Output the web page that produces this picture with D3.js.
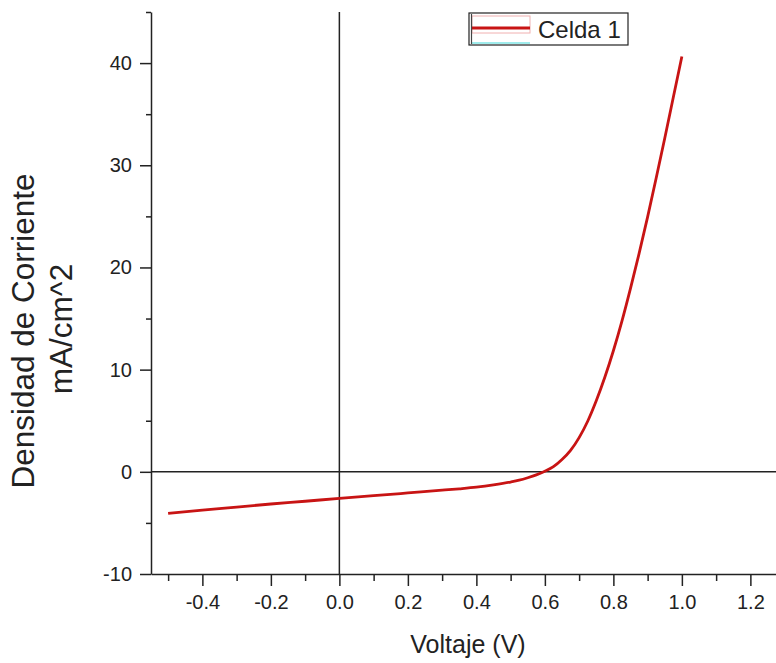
<!DOCTYPE html>
<html>
<head>
<meta charset="utf-8">
<script src="https://cdn.jsdelivr.net/npm/d3@7"></script>
<style>
  body { margin: 0; background: #fff; }
  svg { display: block; font-family: "Liberation Sans", Arial, sans-serif; }
</style>
</head>
<body>
<svg></svg>
<script>
// Curva J-V, Celda 1
let voltaje = [-0.5, -0.4, -0.3, -0.2, -0.1, 0.0, 0.1, 0.2, 0.3, 0.35, 0.4, 0.45, 0.5, 0.525, 0.55, 0.575, 0.6, 0.625, 0.65, 0.675, 0.7, 0.725, 0.75, 0.775, 0.8, 0.825, 0.85, 0.875, 0.9, 0.925, 0.95, 0.975, 1.0];
let densidad = [-4.06, -3.74, -3.45, -3.15, -2.88, -2.6, -2.34, -2.07, -1.8, -1.66, -1.5, -1.28, -1.0, -0.82, -0.58, -0.3, 0.05, 0.5, 1.2, 2.1, 3.35, 4.95, 6.95, 9.25, 11.85, 14.75, 17.95, 21.35, 24.95, 28.75, 32.65, 36.65, 40.65];

let xTicks = [-0.4, -0.2, 0.0, 0.2, 0.4, 0.6, 0.8, 1.0, 1.2];
let xMinorTicks = [-0.5, -0.3, -0.1, 0.1, 0.3, 0.5, 0.7, 0.9, 1.1];
let yTicks = [-10, 0, 10, 20, 30, 40];
let yMinorTicks = [-5, 5, 15, 25, 35, 45];

let serieNombre = "Celda 1";
let xTitulo = "Voltaje (V)";
let yTitulo = ["Densidad de Corriente", "mA/cm^2"];

let width = 776;
let height = 663;
let plotLeft = 151;
let plotTop = 12;
let plotBottom = 574;

let axisColor = "#222";
let lineColor = "#c81414";

let svg = d3.select("svg").attr("width", width).attr("height", height);

let xScale = d3.scaleLinear().domain([-0.55, 1.3]).range([plotLeft, plotLeft + 1.85 * 342.5]);
let yScale = d3.scaleLinear().domain([-10, 45]).range([plotBottom, plotTop]);

let values = voltaje.map((v, i) => [v, densidad[i]]);

// hyphen instead of unicode minus, like the original
let fmtX = d => d3.format(".1f")(d).replace("\u2212", "-");
let fmtY = d => d3.format("d")(d).replace("\u2212", "-");

// zero lines
svg.append("line")
  .attr("x1", plotLeft).attr("x2", width)
  .attr("y1", yScale(0)).attr("y2", yScale(0))
  .attr("stroke", axisColor).attr("stroke-width", 1.5);
svg.append("line")
  .attr("x1", xScale(0)).attr("x2", xScale(0))
  .attr("y1", plotTop).attr("y2", plotBottom)
  .attr("stroke", axisColor).attr("stroke-width", 1.5);

// curve
let line = d3.line()
  .x(d => xScale(d[0]))
  .y(d => yScale(d[1]))
  .curve(d3.curveMonotoneX);

svg.append("path")
  .datum(values)
  .attr("d", line)
  .attr("fill", "none")
  .attr("stroke", lineColor)
  .attr("stroke-width", 2.8)
  .attr("stroke-linejoin", "round");

// axes
let styleAxis = (g, size) => {
  g.select(".domain").attr("stroke", axisColor).attr("stroke-width", 1.5);
  g.selectAll(".tick line").attr("stroke", axisColor).attr("stroke-width", 1.5);
  g.selectAll(".tick text")
    .attr("fill", "#222")
    .style("font-size", size + "px")
    .style("font-family", "\"Liberation Sans\", Arial, sans-serif");
};

svg.append("g")
  .attr("transform", "translate(0," + plotBottom + ")")
  .call(d3.axisBottom(xScale).tickValues(xMinorTicks).tickSize(7).tickFormat(""))
  .call(g => g.select(".domain").remove())
  .call(g => styleAxis(g, 20));

svg.append("g")
  .attr("transform", "translate(0," + plotBottom + ")")
  .call(d3.axisBottom(xScale).tickValues(xTicks).tickSize(12).tickSizeOuter(0).tickPadding(9).tickFormat(fmtX))
  .call(g => styleAxis(g, 20));

svg.append("g")
  .attr("transform", "translate(" + plotLeft + ",0)")
  .call(d3.axisLeft(yScale).tickValues(yMinorTicks).tickSize(5).tickFormat(""))
  .call(g => g.select(".domain").remove())
  .call(g => styleAxis(g, 20));

svg.append("g")
  .attr("transform", "translate(" + plotLeft + ",0)")
  .call(d3.axisLeft(yScale).tickValues(yTicks).tickSize(11).tickSizeOuter(0).tickPadding(8).tickFormat(fmtY))
  .call(g => styleAxis(g, 20));

// titles
svg.append("text")
  .attr("x", 468)
  .attr("y", 653)
  .attr("text-anchor", "middle")
  .attr("fill", "#222")
  .style("font-size", "25px")
  .text(xTitulo);

svg.append("text")
  .attr("transform", "translate(34,331) rotate(-90)")
  .attr("text-anchor", "middle")
  .attr("fill", "#222")
  .style("font-size", "31.5px")
  .text(yTitulo[0]);

svg.append("text")
  .attr("transform", "translate(72,329) rotate(-90)")
  .attr("text-anchor", "middle")
  .attr("fill", "#222")
  .style("font-size", "31.5px")
  .text(yTitulo[1]);

// legend
let legend = svg.append("g");
legend.append("rect")
  .attr("x", 469).attr("y", 13)
  .attr("width", 159).attr("height", 32)
  .attr("fill", "#fff")
  .attr("stroke", "#222").attr("stroke-width", 1.2);
legend.append("rect")
  .attr("x", 472).attr("y", 16)
  .attr("width", 58).attr("height", 17)
  .attr("fill", "none")
  .attr("stroke", "#f0b0b0").attr("stroke-width", 1);
legend.append("line")
  .attr("x1", 472).attr("x2", 530)
  .attr("y1", 28).attr("y2", 28)
  .attr("stroke", lineColor).attr("stroke-width", 2.8);
legend.append("line")
  .attr("x1", 472).attr("x2", 530)
  .attr("y1", 43).attr("y2", 43)
  .attr("stroke", "#7fe6e6").attr("stroke-width", 1.5);
legend.append("line")
  .attr("x1", 471.5).attr("x2", 471.5)
  .attr("y1", 14).attr("y2", 44)
  .attr("stroke", "#444").attr("stroke-width", 1.2);
legend.append("text")
  .attr("x", 538)
  .attr("y", 38)
  .attr("fill", "#222")
  .style("font-size", "24px")
  .text(serieNombre);
</script>
</body>
</html>
